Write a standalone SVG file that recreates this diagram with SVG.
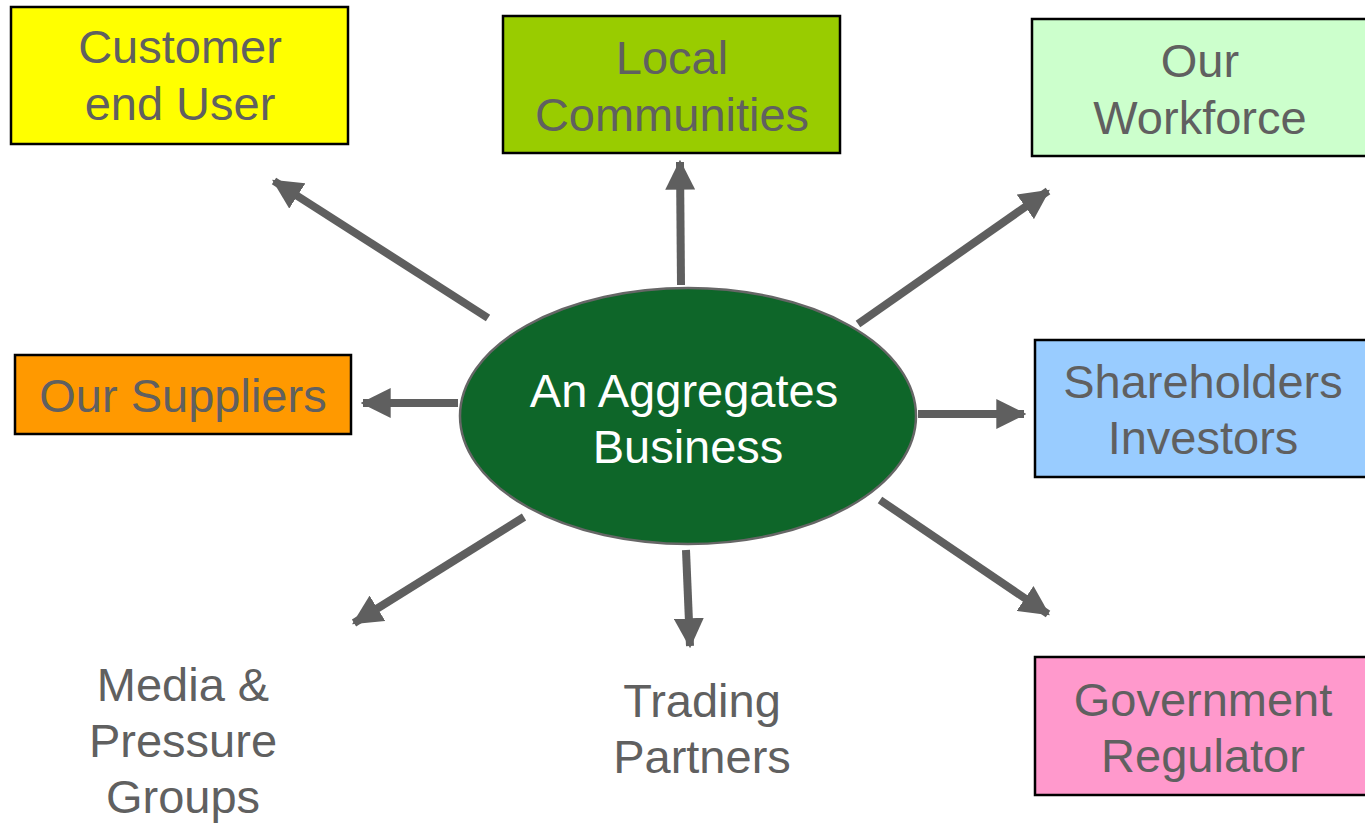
<svg xmlns="http://www.w3.org/2000/svg" width="1365" height="823" viewBox="0 0 1365 823">
<style>
.box{stroke:#000;stroke-width:2.5}
.t{font-family:"Liberation Sans",Arial,sans-serif;font-size:47px;fill:#606060;text-anchor:middle}
.w{fill:#fff}
.c{stroke:#5f5f5f;stroke-width:8;fill:none;marker-end:url(#ah)}
</style>
<defs>
<marker id="ah" markerUnits="userSpaceOnUse" markerWidth="30" markerHeight="30" viewBox="0 0 26 26" refX="24" refY="13" orient="auto">
<path d="M0,0 L26,13 L0,26 Z" fill="#5f5f5f"/>
</marker>
</defs>
<rect width="1365" height="823" fill="#fff"/>
<g id="connectors">
<line class="c" x1="488" y1="318" x2="274" y2="181"/>
<line class="c" x1="681" y1="285" x2="680" y2="162"/>
<line class="c" x1="858" y1="324" x2="1048" y2="191"/>
<line class="c" x1="458" y1="403" x2="363" y2="403"/>
<line class="c" x1="918" y1="414" x2="1024" y2="414"/>
<line class="c" x1="524" y1="517" x2="354" y2="623"/>
<line class="c" x1="686" y1="550" x2="690" y2="646"/>
<line class="c" x1="880" y1="500" x2="1048" y2="614"/>
</g>
<g id="customer">
<rect class="box" x="11" y="7" width="337" height="137" fill="#ffff00"/>
<text class="t" x="180" y="63">Customer</text>
<text class="t" x="180" y="120">end User</text>
</g>
<g id="local">
<rect class="box" x="503" y="16" width="337" height="137" fill="#99cc00"/>
<text class="t" x="672" y="74">Local</text>
<text class="t" x="672" y="131">Communities</text>
</g>
<g id="workforce">
<rect class="box" x="1032" y="19" width="340" height="137" fill="#ccffcc"/>
<text class="t" x="1200" y="77">Our</text>
<text class="t" x="1200" y="134">Workforce</text>
</g>
<g id="suppliers">
<rect class="box" x="15" y="355" width="336" height="79" fill="#ff9900"/>
<text class="t" x="183" y="412">Our Suppliers</text>
</g>
<g id="shareholders">
<rect class="box" x="1035" y="340" width="337" height="137" fill="#99ccff"/>
<text class="t" x="1203" y="398">Shareholders</text>
<text class="t" x="1203" y="454">Investors</text>
</g>
<g id="government">
<rect class="box" x="1035" y="657" width="337" height="138" fill="#ff99cc"/>
<text class="t" x="1203" y="716">Government</text>
<text class="t" x="1203" y="772">Regulator</text>
</g>
<g id="media">
<text class="t" x="183" y="701">Media &amp;</text>
<text class="t" x="183" y="757">Pressure</text>
<text class="t" x="183" y="813">Groups</text>
</g>
<g id="trading">
<text class="t" x="702" y="717">Trading</text>
<text class="t" x="702" y="773">Partners</text>
</g>
<g id="business">
<ellipse cx="688" cy="416" rx="228" ry="128" fill="#0e6629" stroke="#666" stroke-width="2.5"/>
<text class="t w" x="684" y="407">An Aggregates</text>
<text class="t w" x="688" y="463">Business</text>
</g>
</svg>
